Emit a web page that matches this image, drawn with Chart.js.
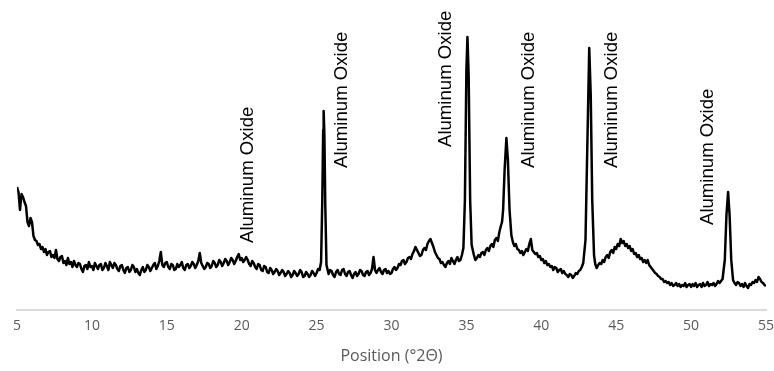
<!DOCTYPE html>
<html>
<head>
<meta charset="utf-8">
<script src="https://cdn.jsdelivr.net/npm/chart.js@4.4.1/dist/chart.umd.min.js"></script>
<style>
  body { margin: 0; background: #fff; }
</style>
</head>
<body>
<canvas id="myChart" width="774" height="371"></canvas>
<script>
// diffraction scan (rows of ten, twoTheta and counts line up)
const twoTheta = [
  5.0, 5.1, 5.2, 5.3, 5.4, 5.5, 5.6, 5.7, 5.8, 5.9,
  6.0, 6.1, 6.2, 6.3, 6.4, 6.5, 6.6, 6.7, 6.8, 6.9,
  7.0, 7.1, 7.2, 7.3, 7.4, 7.5, 7.6, 7.7, 7.8, 7.9,
  8.0, 8.1, 8.2, 8.3, 8.4, 8.5, 8.6, 8.7, 8.8, 8.9,
  9.0, 9.1, 9.2, 9.3, 9.4, 9.5, 9.6, 9.7, 9.8, 9.9,
  10.0, 10.1, 10.2, 10.3, 10.4, 10.5, 10.6, 10.7, 10.8, 10.9,
  11.0, 11.1, 11.2, 11.3, 11.4, 11.5, 11.6, 11.7, 11.8, 11.9,
  12.0, 12.1, 12.2, 12.3, 12.4, 12.5, 12.6, 12.7, 12.8, 12.9,
  13.0, 13.1, 13.2, 13.3, 13.4, 13.5, 13.6, 13.7, 13.8, 13.9,
  14.0, 14.1, 14.2, 14.3, 14.4, 14.5, 14.6, 14.7, 14.8, 14.9,
  15.0, 15.1, 15.2, 15.3, 15.4, 15.5, 15.6, 15.7, 15.8, 15.9,
  16.0, 16.1, 16.2, 16.3, 16.4, 16.5, 16.6, 16.7, 16.8, 16.9,
  17.0, 17.1, 17.2, 17.3, 17.4, 17.5, 17.6, 17.7, 17.8, 17.9,
  18.0, 18.1, 18.2, 18.3, 18.4, 18.5, 18.6, 18.7, 18.8, 18.9,
  19.0, 19.1, 19.2, 19.3, 19.4, 19.5, 19.6, 19.7, 19.8, 19.9,
  20.0, 20.1, 20.2, 20.3, 20.4, 20.5, 20.6, 20.7, 20.8, 20.9,
  21.0, 21.1, 21.2, 21.3, 21.4, 21.5, 21.6, 21.7, 21.8, 21.9,
  22.0, 22.1, 22.2, 22.3, 22.4, 22.5, 22.6, 22.7, 22.8, 22.9,
  23.0, 23.1, 23.2, 23.3, 23.4, 23.5, 23.6, 23.7, 23.8, 23.9,
  24.0, 24.1, 24.2, 24.3, 24.4, 24.5, 24.6, 24.7, 24.8, 24.9,
  25.0, 25.1, 25.2, 25.3, 25.38, 25.44, 25.47, 25.52, 25.58, 25.66,
  25.8, 25.9, 26.0, 26.1, 26.2, 26.3, 26.4, 26.5, 26.6, 26.7,
  26.8, 26.9, 27.0, 27.1, 27.2, 27.3, 27.4, 27.5, 27.6, 27.7,
  27.8, 27.9, 28.0, 28.1, 28.2, 28.3, 28.4, 28.5, 28.6, 28.7,
  28.8, 28.9, 29.0, 29.1, 29.2, 29.3, 29.4, 29.5, 29.6, 29.7,
  29.8, 29.9, 30.0, 30.1, 30.2, 30.3, 30.4, 30.5, 30.6, 30.7,
  30.8, 30.9, 31.0, 31.1, 31.2, 31.3, 31.4, 31.5, 31.6, 31.7,
  31.8, 31.9, 32.0, 32.1, 32.2, 32.3, 32.4, 32.5, 32.6, 32.7,
  32.8, 32.9, 33.0, 33.1, 33.2, 33.3, 33.4, 33.5, 33.6, 33.7,
  33.8, 33.9, 34.0, 34.1, 34.2, 34.3, 34.4, 34.5, 34.6, 34.7,
  34.8, 34.9, 35.0, 35.07, 35.15, 35.25, 35.35, 35.5, 35.6, 35.7,
  35.8, 35.9, 36.0, 36.1, 36.2, 36.3, 36.4, 36.5, 36.6, 36.7,
  36.8, 36.9, 37.0, 37.1, 37.2, 37.3, 37.38, 37.45, 37.55, 37.67,
  37.77, 37.88, 38.0, 38.1, 38.2, 38.3, 38.4, 38.5, 38.6, 38.7,
  38.8, 38.9, 39.0, 39.1, 39.2, 39.3, 39.4, 39.5, 39.6, 39.7,
  39.8, 39.9, 40.0, 40.1, 40.2, 40.3, 40.4, 40.5, 40.6, 40.7,
  40.8, 40.9, 41.0, 41.1, 41.2, 41.3, 41.4, 41.5, 41.6, 41.7,
  41.8, 41.9, 42.0, 42.1, 42.2, 42.3, 42.4, 42.5, 42.6, 42.7,
  42.8, 42.95, 43.08, 43.2, 43.3, 43.4, 43.52, 43.6, 43.7, 43.8,
  43.9, 44.0, 44.1, 44.2, 44.3, 44.4, 44.5, 44.6, 44.7, 44.8,
  44.9, 45.0, 45.1, 45.2, 45.3, 45.4, 45.5, 45.6, 45.7, 45.8,
  45.9, 46.0, 46.1, 46.2, 46.3, 46.4, 46.5, 46.6, 46.7, 46.8,
  46.9, 47.0, 47.1, 47.2, 47.3, 47.4, 47.5, 47.6, 47.7, 47.8,
  47.9, 48.0, 48.1, 48.2, 48.3, 48.4, 48.5, 48.6, 48.7, 48.8,
  48.9, 49.0, 49.1, 49.2, 49.3, 49.4, 49.5, 49.6, 49.7, 49.8,
  49.9, 50.0, 50.1, 50.2, 50.3, 50.4, 50.5, 50.6, 50.7, 50.8,
  50.9, 51.0, 51.1, 51.2, 51.3, 51.4, 51.5, 51.6, 51.7, 51.8,
  51.9, 52.0, 52.1, 52.25, 52.36, 52.47, 52.57, 52.68, 52.8, 52.9,
  53.0, 53.1, 53.2, 53.3, 53.4, 53.5, 53.6, 53.7, 53.8, 53.9,
  54.0, 54.1, 54.2, 54.3, 54.4, 54.5, 54.6, 54.7, 54.8, 54.9,
  55.0
];
const counts = [
  123, 118, 100, 116, 113, 108, 104, 88, 84, 92,
  88, 74, 70, 69, 65, 66, 61, 63, 58, 61,
  55, 58, 59, 53, 55, 52, 60, 51, 49, 53,
  54, 47, 49, 45, 52, 46, 48, 43, 49, 45,
  43, 47, 46, 41, 38, 44, 45, 41, 48, 43,
  44, 40, 47, 44, 41, 45, 46, 40, 42, 47,
  44, 40, 48, 45, 42, 47, 45, 41, 39, 44,
  45, 40, 37, 42, 43, 38, 40, 45, 43, 38,
  41, 37, 35, 40, 43, 38, 40, 45, 43, 39,
  42, 45, 47, 41, 44, 49, 58, 45, 43, 47,
  48, 43, 41, 46, 45, 40, 41, 46, 43, 45,
  48, 42, 40, 45, 46, 42, 44, 48, 46, 42,
  45, 49, 57, 47, 44, 41, 43, 47, 46, 42,
  44, 49, 47, 43, 45, 50, 48, 44, 47, 51,
  49, 45, 48, 52, 50, 46, 49, 53, 56, 50,
  52, 48, 50, 53, 50, 46, 44, 49, 47, 43,
  41, 46, 45, 40, 39, 44, 43, 38, 37, 42,
  40, 36, 38, 41, 39, 35, 37, 40, 38, 34,
  36, 39, 37, 33, 35, 39, 37, 34, 36, 40,
  38, 33, 34, 38, 36, 33, 35, 39, 37, 34,
  37, 41, 40, 48, 110, 180, 199, 175, 105, 45,
  36, 40, 39, 35, 33, 38, 40, 36, 35, 40,
  41, 36, 34, 38, 39, 35, 32, 36, 38, 34,
  36, 40, 39, 35, 34, 38, 39, 35, 37, 41,
  53, 40, 37, 40, 42, 38, 36, 40, 41, 37,
  39, 36, 37, 41, 43, 40, 42, 46, 45, 49,
  50, 46, 48, 52, 53, 51, 56, 59, 63, 60,
  57, 54, 55, 60, 62, 60, 66, 69, 71, 67,
  63, 58, 55, 52, 51, 47, 48, 45, 43, 47,
  49, 46, 52, 49, 46, 50, 53, 49, 50, 55,
  62, 110, 240, 273, 235, 110, 65, 55, 50, 52,
  55, 53, 57, 58, 55, 60, 62, 59, 64, 66,
  63, 70, 72, 69, 78, 84, 88, 100, 140, 172,
  150, 100, 75, 68, 64, 66, 61, 60, 57, 59,
  55, 58, 61, 59, 66, 71, 60, 58, 56, 57,
  53, 54, 50, 51, 47, 49, 45, 46, 43, 44,
  40, 43, 42, 38, 40, 41, 37, 39, 36, 35,
  33, 36, 35, 32, 34, 37, 36, 39, 40, 43,
  47, 70, 170, 262, 215, 110, 55, 46, 42, 45,
  47, 46, 50, 48, 53, 55, 52, 58, 60, 57,
  63, 61, 66, 64, 71, 67, 69, 64, 66, 62,
  64, 59, 61, 56, 57, 53, 55, 51, 52, 48,
  50, 47, 50, 45, 43, 41, 39, 37, 36, 34,
  33, 31, 31, 28, 29, 27, 28, 25, 27, 24,
  25, 27, 24, 26, 23, 25, 24, 27, 23, 25,
  26, 23, 26, 24, 27, 23, 25, 26, 23, 27,
  24, 25, 28, 24, 26, 25, 27, 24, 26, 29,
  27, 29, 31, 50, 95, 118, 95, 50, 30, 27,
  25, 28, 27, 24, 26, 23, 27, 24, 22, 26,
  25, 28, 27, 30, 28, 33, 31, 28, 27, 25,
  24
];

// peak labels: position and the height where the text starts
const peakNames = ['Aluminum Oxide', 'Aluminum Oxide', 'Aluminum Oxide', 'Aluminum Oxide', 'Aluminum Oxide', 'Aluminum Oxide'];
const peakLabelX = [20.4, 26.7, 33.63, 39.17, 44.73, 51.1];
const peakLabelY = [67, 142, 163, 142, 142, 85];

const xTicks = [5, 10, 15, 20, 25, 30, 35, 40, 45, 50, 55];

const points = twoTheta.map((t, i) => ({ x: t, y: counts[i] }));

const peakLabels = {
    id: 'peakLabels',
    afterDatasetsDraw(chart) {
        const ctx = chart.ctx;
        const xs = chart.scales.x;
        const ys = chart.scales.y;
        ctx.save();
        ctx.fillStyle = '#000';
        ctx.font = '18.6px "Liberation Sans", Arial, sans-serif';
        ctx.textAlign = 'left';
        ctx.textBaseline = 'middle';
        peakNames.forEach((name, i) => {
            ctx.save();
            ctx.translate(xs.getPixelForValue(peakLabelX[i]), ys.getPixelForValue(peakLabelY[i]));
            ctx.rotate(-Math.PI / 2);
            ctx.fillText(name, 0, 0);
            ctx.restore();
        });
        ctx.restore();
    }
};

const data = {
    datasets: [
        {
            label: 'Scan',
            data: points,
            borderColor: '#000',
            borderWidth: 2.5,
            borderJoinStyle: 'round',
            pointRadius: 0,
            tension: 0,
            fill: false
        }
    ]
};

const config = {
    type: 'line',
    data: data,
    options: {
        responsive: false,
        animation: false,
        layout: {
            padding: { left: 17, right: 8, top: 10, bottom: 1 }
        },
        plugins: {
            legend: { display: false },
            tooltip: { enabled: false }
        },
        scales: {
            x: {
                type: 'linear',
                min: 5,
                max: 55,
                afterBuildTicks: (scale) => {
                    scale.ticks = xTicks.map(v => ({ value: v }));
                },
                afterFit: (scale) => {
                    scale.paddingLeft = 0;
                    scale.paddingRight = 0;
                },
                grid: { display: false, drawTicks: false },
                border: { display: true, color: '#d9d9d9', width: 2 },
                ticks: {
                    color: '#595959',
                    padding: 8,
                    maxRotation: 0,
                    font: { family: '"Open Sans", sans-serif', size: 14 }
                },
                title: {
                    display: true,
                    text: 'Position (°2Θ)',
                    color: '#595959',
                    padding: { top: 4, bottom: 4 },
                    font: { family: '"Open Sans", sans-serif', size: 16 }
                }
            },
            y: {
                display: false,
                min: 0,
                max: 300
            }
        }
    },
    plugins: [peakLabels]
};

const myChart = new Chart(
    document.getElementById('myChart'),
    config
);
</script>
</body>
</html>
